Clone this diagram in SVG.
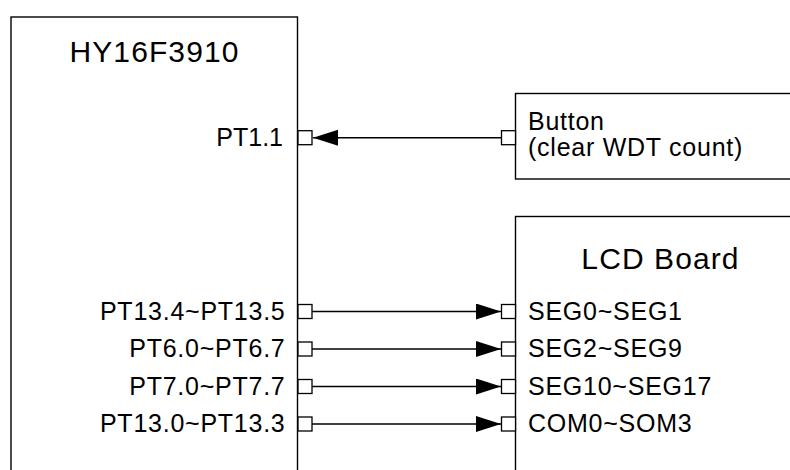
<svg xmlns="http://www.w3.org/2000/svg" width="790" height="470" viewBox="0 0 790 470">
<style>
.box{fill:#fff;stroke:#000;stroke-width:1.4}
.pin{fill:#fff;stroke:#000;stroke-width:1.3}
.wire{fill:none;stroke:#000;stroke-width:1.4}
.t{font-family:"Liberation Sans",Arial,sans-serif;fill:#000}
.title{font-size:30px;letter-spacing:1.1px}
.lbl{font-size:25px;letter-spacing:0.75px}
</style>
<defs>
<marker id="arr" markerUnits="userSpaceOnUse" markerWidth="26" markerHeight="18" refX="25" refY="8" orient="auto">
<path d="M0,0 L25,8 L0,16 Z" fill="#000"/>
</marker>
</defs>
<g id="mcu">
<rect class="box" x="11" y="17" width="286.5" height="470"/>
<text class="t title" x="154.5" y="62" text-anchor="middle">HY16F3910</text>
<text class="t lbl" x="283" y="146" text-anchor="end" style="letter-spacing:0">PT1.1</text>
<text class="t lbl" x="285.5" y="319.5" text-anchor="end">PT13.4~PT13.5</text>
<text class="t lbl" x="285.5" y="357" text-anchor="end">PT6.0~PT6.7</text>
<text class="t lbl" x="285.5" y="394.5" text-anchor="end">PT7.0~PT7.7</text>
<text class="t lbl" x="285.5" y="432" text-anchor="end">PT13.0~PT13.3</text>
<rect class="pin" x="298" y="130.7" width="14" height="14"/>
<rect class="pin" x="298" y="304.5" width="14" height="14"/>
<rect class="pin" x="298" y="342" width="14" height="14"/>
<rect class="pin" x="298" y="379.5" width="14" height="14"/>
<rect class="pin" x="298" y="417" width="14" height="14"/>
</g>
<g id="button">
<rect class="box" x="515.5" y="93.5" width="300" height="85.5"/>
<text class="t lbl" x="528" y="130">Button</text>
<text class="t lbl" x="528" y="155.5">(clear WDT count)</text>
<rect class="pin" x="501.5" y="130.7" width="14" height="14"/>
</g>
<g id="lcd">
<rect class="box" x="515.5" y="216.5" width="300" height="300"/>
<text class="t title" x="660.5" y="268.5" text-anchor="middle">LCD Board</text>
<text class="t lbl" x="528" y="319.5">SEG0~SEG1</text>
<text class="t lbl" x="528" y="357">SEG2~SEG9</text>
<text class="t lbl" x="528" y="394.5">SEG10~SEG17</text>
<text class="t lbl" x="528" y="432">COM0~SOM3</text>
<rect class="pin" x="501.5" y="304.5" width="14" height="14"/>
<rect class="pin" x="501.5" y="342" width="14" height="14"/>
<rect class="pin" x="501.5" y="379.5" width="14" height="14"/>
<rect class="pin" x="501.5" y="417" width="14" height="14"/>
</g>
<g id="connectors">
<line class="wire" x1="501.5" y1="137.7" x2="313" y2="137.7" marker-end="url(#arr)"/>
<line class="wire" x1="312" y1="311.5" x2="501" y2="311.5" marker-end="url(#arr)"/>
<line class="wire" x1="312" y1="349" x2="501" y2="349" marker-end="url(#arr)"/>
<line class="wire" x1="312" y1="386.5" x2="501" y2="386.5" marker-end="url(#arr)"/>
<line class="wire" x1="312" y1="424" x2="501" y2="424" marker-end="url(#arr)"/>
</g>
</svg>
